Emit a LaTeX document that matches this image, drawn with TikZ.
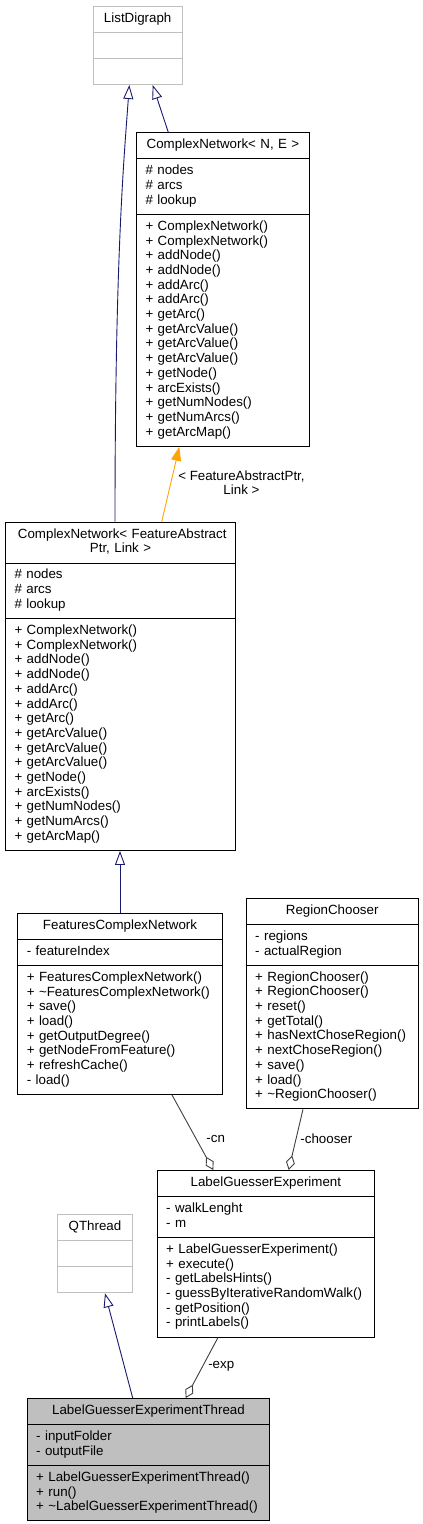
\documentclass[tikz,border=0pt]{standalone}
\usepackage{fontspec}
\setmainfont{Liberation Sans}
\usepackage{xcolor}
\usepackage{tikz}
\usetikzlibrary{shapes,arrows.meta,positioning}
\definecolor{edgeblue}{HTML}{191970}
\definecolor{boxgrey}{HTML}{BFBFBF}
\definecolor{linkgrey}{HTML}{404040}
\definecolor{tmplorange}{HTML}{FFA500}
\newcommand{\ctr}[1]{\hspace*{\fill}#1\hspace*{\fill}}

\begin{document}
\begin{tikzpicture}[x=1pt,y=-1pt,font=\fontsize{13.33}{14.7}\selectfont,
    cls/.style={rectangle split,rectangle split parts=3,draw=black,line width=1pt,fill=white,anchor=north west,inner xsep=9pt,inner ysep=5.2pt,align=left},
    extcls/.style={cls,draw=boxgrey},
    inh/.style={draw=edgeblue,line width=0.9pt,-{Triangle[open,length=14pt,width=10pt]}},
    tmpl/.style={draw=tmplorange,line width=0.9pt,-{Triangle[length=14pt,width=10pt]}},
    memb/.style={draw=linkgrey,line width=0.9pt,-{Diamond[open,length=15pt,width=9pt]}},
    lbl/.style={font=\fontsize{13.33}{13.5}\selectfont,inner sep=0pt,anchor=west}]
    \path[use as bounding box,fill=white] (0,0) rectangle (423,1524);

    % class boxes, placed by their top left corner
    \node[extcls,text width=71pt] at (92.7,5.7) (listdg) {\strut\ctr{ListDigraph}\strut
        \nodepart{two}\strut
        \nodepart{three}\strut};
    \node[cls,text width=155pt] at (136,132.3) (cnne) {\strut\ctr{ComplexNetwork< N, E >}\strut
        \nodepart{two}\strut\# nodes\\\# arcs\\\# lookup\strut
        \nodepart{three}\strut+ ComplexNetwork()\\+ ComplexNetwork()\\+ addNode()\\+ addNode()\\+ addArc()\\+ addArc()\\+ getArc()\\+ getArcValue()\\+ getArcValue()\\+ getArcValue()\\+ getNode()\\+ arcExists()\\+ getNumNodes()\\+ getNumArcs()\\+ getArcMap()\strut};
    \node[cls,text width=212pt] at (5,521.7) (cnfap) {\strut\ctr{ComplexNetwork< FeatureAbstract}\\\ctr{Ptr, Link >}\strut
        \nodepart{two}\strut\# nodes\\\# arcs\\\# lookup\strut
        \nodepart{three}\strut+ ComplexNetwork()\\+ ComplexNetwork()\\+ addNode()\\+ addNode()\\+ addArc()\\+ addArc()\\+ getArc()\\+ getArcValue()\\+ getArcValue()\\+ getArcValue()\\+ getNode()\\+ arcExists()\\+ getNumNodes()\\+ getNumArcs()\\+ getArcMap()\strut};
    \node[cls,text width=186.4pt] at (17.3,912.7) (fcn) {\strut\ctr{FeaturesComplexNetwork}\strut
        \nodepart{two}\strut- featureIndex\strut
        \nodepart{three}\strut+ FeaturesComplexNetwork()\\+ \textasciitilde FeaturesComplexNetwork()\\+ save()\\+ load()\\+ getOutputDegree()\\+ getNodeFromFeature()\\+ refreshCache()\\- load()\strut};
    \node[cls,text width=154pt] at (245.7,897.7) (rc) {\strut\ctr{RegionChooser}\strut
        \nodepart{two}\strut- regions\\- actualRegion\strut
        \nodepart{three}\strut+ RegionChooser()\\+ RegionChooser()\\+ reset()\\+ getTotal()\\+ hasNextChoseRegion()\\+ nextChoseRegion()\\+ save()\\+ load()\\+ \textasciitilde RegionChooser()\strut};
    \node[cls,text width=199.3pt] at (156.7,1170) (lge) {\strut\ctr{LabelGuesserExperiment}\strut
        \nodepart{two}\strut- walkLenght\\- m\strut
        \nodepart{three}\strut+ LabelGuesserExperiment()\\+ execute()\\- getLabelsHints()\\- guessByIterativeRandomWalk()\\- getPosition()\\- printLabels()\strut};
    \node[extcls,text width=57pt] at (57,1214) (qthr) {\strut\ctr{QThread}\strut
        \nodepart{two}\strut
        \nodepart{three}\strut};
    \node[cls,fill=boxgrey,text width=224.6pt] at (26.7,1398) (lget) {\strut\ctr{LabelGuesserExperimentThread}\strut
        \nodepart{two}\strut- inputFolder\\- outputFile\strut
        \nodepart{three}\strut+ LabelGuesserExperimentThread()\\+ run()\\+ \textasciitilde LabelGuesserExperimentThread()\strut};

    % inheritance
    \draw[inh] ([xshift=32.3pt]cnne.north west) -- ([xshift=60pt]listdg.south west);
    \draw[inh] ([xshift=110pt]cnfap.north west) .. controls +(0,-270) and +(-5,70) .. ([xshift=36.6pt]listdg.south west);
    \draw[inh] ([xshift=102.7pt]fcn.north west) -- ([xshift=115pt]cnfap.south west);
    \draw[inh] ([xshift=106pt]lget.north west) -- ([xshift=48pt]qthr.south west);
    % template instance
    \draw[tmpl] ([xshift=156.7pt]cnfap.north west) -- node[lbl,pos=0.52,xshift=7pt,align=center]{< FeatureAbstractPtr,\\Link >} ([xshift=43.3pt]cnne.south west);
    % members
    \draw[memb] ([xshift=154.7pt]fcn.south west) -- node[lbl,pos=0.59,xshift=9.6pt]{-cn} ([xshift=56.6pt]lge.north west);
    \draw[memb] ([xshift=57.3pt]rc.south west) -- node[lbl,pos=0.49,xshift=4pt]{-chooser} ([xshift=132pt]lge.north west);
    \draw[memb] ([xshift=61.3pt]lge.south west) -- node[lbl,pos=0.47,xshift=5pt]{-exp} ([xshift=159pt]lget.north west);
\end{tikzpicture}
\end{document}
